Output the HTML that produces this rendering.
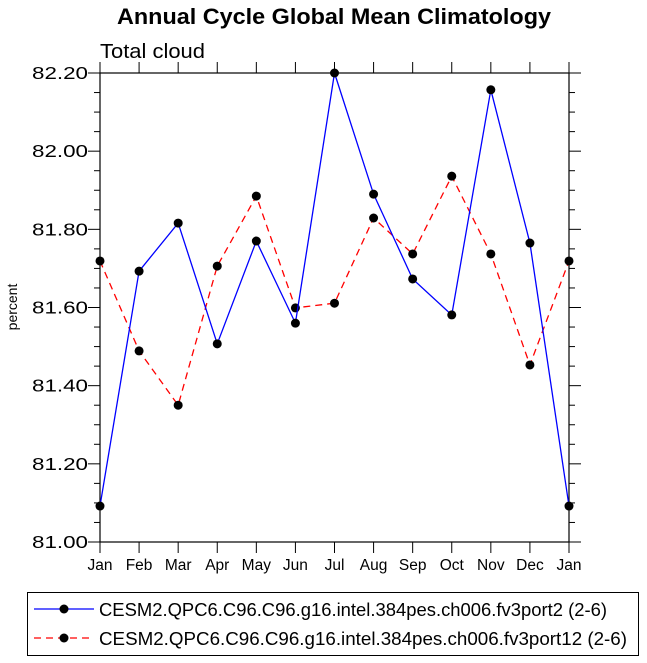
<!DOCTYPE html>
<html><head><meta charset="utf-8"><style>body{margin:0;background:#fff}svg{display:block}text{font-family:"Liberation Sans",Arial,sans-serif}</style></head>
<body>
<svg id="c" width="647" height="663">
<text x="334" y="24" text-anchor="middle" font-size="22" font-weight="bold" textLength="434" lengthAdjust="spacingAndGlyphs">Annual Cycle Global Mean Climatology</text>
<text x="100" y="58" font-size="20" textLength="105" lengthAdjust="spacingAndGlyphs">Total cloud</text>
<text transform="translate(17,307) rotate(-90)" text-anchor="middle" font-size="14">percent</text>
<g id="ax"></g><g id="ser"></g>
<g>
<rect x="27.5" y="592.5" width="611" height="63" fill="none" stroke="#000"/>
<g><line x1="34" y1="609" x2="94" y2="609" stroke="#00f" stroke-width="1.3"/><circle cx="64" cy="609" r="4.5"/><text x="99" y="616" font-size="18.6" textLength="508" lengthAdjust="spacingAndGlyphs">CESM2.QPC6.C96.C96.g16.intel.384pes.ch006.fv3port2 (2-6)</text></g>
<g><line x1="34" y1="638" x2="94" y2="638" stroke="#f00" stroke-width="1.3" stroke-dasharray="7,5"/><circle cx="64" cy="638" r="4.5"/><text x="99" y="645" font-size="18.6" textLength="528" lengthAdjust="spacingAndGlyphs">CESM2.QPC6.C96.C96.g16.intel.384pes.ch006.fv3port12 (2-6)</text></g>
</g>
</svg>
<script>
const months=["Jan","Feb","Mar","Apr","May","Jun","Jul","Aug","Sep","Oct","Nov","Dec","Jan"];
const yTicks=[81.0,81.2,81.4,81.6,81.8,82.0,82.2];
const yTickLabels=["81.00","81.20","81.40","81.60","81.80","82.00","82.20"];
const port2=[81.092,81.693,81.816,81.507,81.770,81.560,82.200,81.890,81.673,81.581,82.157,81.765,81.092];
const port12=[81.719,81.489,81.350,81.706,81.885,81.599,81.611,81.829,81.737,81.936,81.737,81.453,81.719];
const L=100,R=569,T=73,B=542,ymin=81.0,ymax=82.2;
const xs=i=>L+(R-L)*i/(months.length-1);
const ys=v=>B-(B-T)*(v-ymin)/(ymax-ymin);
const NS="http://www.w3.org/2000/svg";
function mk(tag,attrs,parent){const e=document.createElementNS(NS,tag);for(const k in attrs)e.setAttribute(k,attrs[k]);parent.appendChild(e);return e;}
const ax=document.getElementById('ax'),ser=document.getElementById('ser');
const frame=mk('rect',{x:L,y:T,width:R-L,height:B-T,fill:'none',stroke:'#000','stroke-width':1.2},ax);


months.forEach((m,i)=>{const x=xs(i);
 mk('line',{x1:x,y1:B,x2:x,y2:B+11,stroke:'#000'},ax);
 mk('line',{x1:x,y1:T,x2:x,y2:T-11,stroke:'#000'},ax);
 const t=mk('text',{x:x,y:B+28,'text-anchor':'middle','font-size':15.5},ax);t.textContent=m;
 
 
});
yTicks.forEach((v,i)=>{const y=ys(v);
 mk('line',{x1:L-12,y1:y,x2:L,y2:y,stroke:'#000'},ax);
 mk('line',{x1:R,y1:y,x2:R+12,y2:y,stroke:'#000'},ax);
 const t=mk('text',{x:L-12,y:y+6,'text-anchor':'end','font-size':17.5,textLength:56,lengthAdjust:'spacingAndGlyphs'},ax);t.textContent=yTickLabels[i];
 
 
 if(i<yTicks.length-1)for(let k=1;k<4;k++){const yy=ys(v+(yTicks[i+1]-v)*k/4);
  mk('line',{x1:L-6,y1:yy,x2:L,y2:yy,stroke:'#000'},ax);
  mk('line',{x1:R,y1:yy,x2:R+6,y2:yy,stroke:'#000'},ax);}
});
function series(data,color,dash,name){
 const g=mk('g',{},ser);
 
 
 const pl=mk('polyline',{points:data.map((v,i)=>xs(i)+','+ys(v)).join(' '),fill:'none',stroke:color,'stroke-width':1.3},g);
 if(dash)pl.setAttribute('stroke-dasharray',dash);
 data.forEach((v,i)=>{const c=mk('circle',{cx:xs(i),cy:ys(v),r:4.5,fill:'#000'},g);
  
  });
}
series(port12,'#f00','7,5','series-fv3port12');
series(port2,'#00f',null,'series-fv3port2');
</script>
</body></html>
